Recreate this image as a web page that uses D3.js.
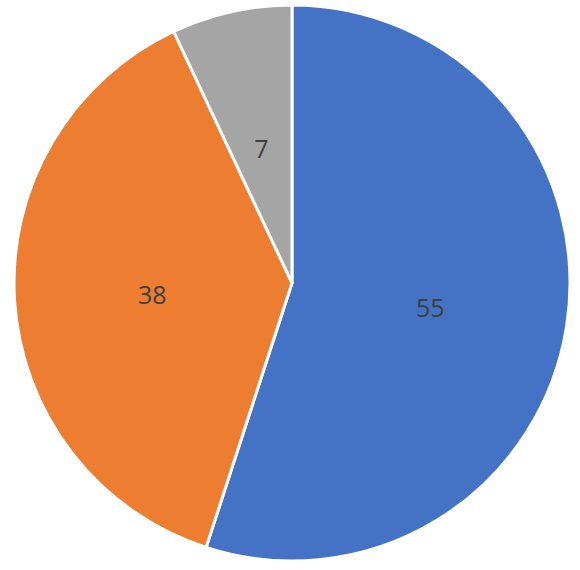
<!DOCTYPE html>
<html>
<head>
    <meta charset="utf-8">
    <script src="https://d3js.org/d3.v7.min.js"></script>
    <style>
        body { margin: 0; background: #fff; }
    </style>
</head>
<body>
    <svg width="580" height="570"></svg>

    <script>
        // slice data
        var categories = ["A", "B", "C"];
        var values = [55, 38, 7];
        var colors = ["#4472C4", "#ED7D31", "#A5A5A5"];

        var svg = d3.select("svg"),
            cx = 292,
            cy = 283,
            radius = 278;

        var data = categories.map(function(c, i) {
            return { name: c, value: values[i] };
        });

        var color = d3.scaleOrdinal()
            .domain(categories)
            .range(colors);

        var pie = d3.pie()
            .sort(null)
            .value(function(d) { return d.value; });

        var arc = d3.arc()
            .innerRadius(0)
            .outerRadius(radius);

        var labelArc = d3.arc()
            .innerRadius(140)
            .outerRadius(140);

        var g = svg.append("g")
            .attr("transform", "translate(" + cx + "," + cy + ")");

        g.selectAll(".slice")
            .data(pie(data))
            .enter().append("path")
            .attr("class", "slice")
            .attr("d", arc)
            .attr("fill", function(d) { return color(d.data.name); })
            .attr("stroke", "#fff")
            .attr("stroke-width", 3)
            .attr("stroke-linejoin", "round");

        g.selectAll(".label")
            .data(pie(data))
            .enter().append("text")
            .attr("class", "label")
            .attr("transform", function(d) {
                var c = labelArc.centroid(d);
                return "translate(" + c[0] + "," + (c[1] + 2) + ")";
            })
            .attr("text-anchor", "middle")
            .attr("dominant-baseline", "central")
            .attr("font-family", "'Open Sans', sans-serif")
            .attr("font-size", 25)
            .attr("fill", "#404040")
            .text(function(d) { return d.data.value; });
    </script>
</body>
</html>
